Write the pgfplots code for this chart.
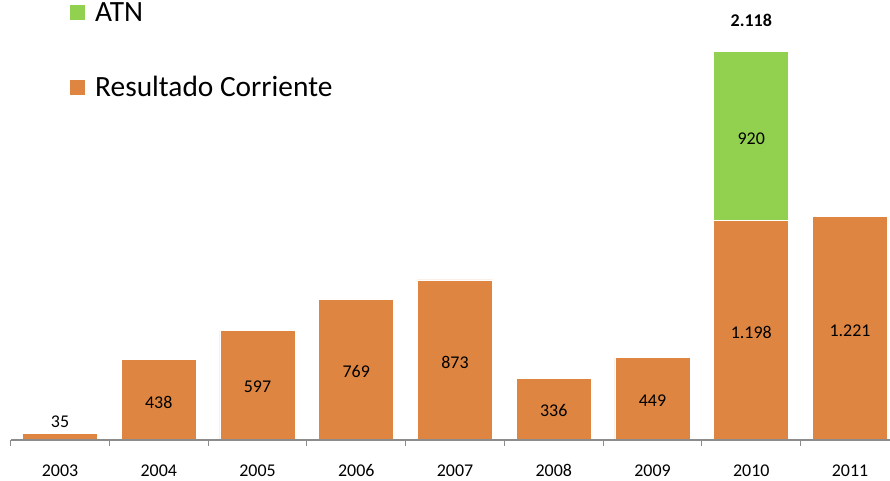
\documentclass[border=0pt]{standalone}
\usepackage{fontspec}
\setmainfont{Carlito}
\usepackage{pgfplots}
\pgfplotsset{compat=1.18}
\definecolor{rc}{RGB}{221,133,65}
\definecolor{atn}{RGB}{146,208,80}
\definecolor{axisgray}{RGB}{140,140,140}
\tikzset{lbl/.style={font=\fontsize{18}{21}\selectfont}}
\begin{document}
\begin{tikzpicture}
\begin{axis}[
    scale only axis,
    width=888.75bp, height=440bp,
    xmin=-0.5, xmax=8.5, ymin=0, ymax=2400,
    ybar stacked, bar width=0.76,
    axis on top,
    axis x line*=bottom, hide y axis,
    x axis line style={axisgray, line width=1.5bp, -},
    xtick={0,1,2,3,4,5,6,7,8},
    xticklabels={2003,2004,2005,2006,2007,2008,2009,2010,2011},
    major tick length=0pt,
    minor xtick={-0.5,0.5,1.5,2.5,3.5,4.5,5.5,6.5,7.5,8.5},
    minor tick length=6bp,
    tick align=outside,
    xtick style={axisgray, line width=1.2bp},
    xticklabel style={font=\fontsize{18}{21}\selectfont, yshift=-21bp},
    /pgf/number format/assume math mode=true,
    legend style={draw=none, fill=none, at={(axis description cs:0.0668,1.0)},
        anchor=north west, font=\fontsize{29.5}{34}\selectfont, row sep=50bp, inner sep=0pt,
        nodes={inner xsep=10bp}},
    legend cell align=left, reverse legend,
    legend image code/.code={\fill[#1, draw=none] (0bp,-7.5bp) rectangle (15bp,7.5bp);},
]
% Resultado Corriente
\addplot[fill=rc, draw=white, line width=0.8bp] coordinates {
    (0,35) (1,438) (2,597) (3,769) (4,873) (5,336) (6,449) (7,1198) (8,1221)};
\addlegendentry{Resultado Corriente}
% ATN
\addplot[fill=atn, draw=white, line width=0.8bp] coordinates {
    (0,0) (1,0) (2,0) (3,0) (4,0) (5,0) (6,0) (7,920) (8,0)};
\addlegendentry{ATN}

\coordinate (l0) at (axis cs:0,99);
\coordinate (l1) at (axis cs:1,203);
\coordinate (l2) at (axis cs:2,288);
\coordinate (l3) at (axis cs:3,371);
\coordinate (l4) at (axis cs:4,425);
\coordinate (l5) at (axis cs:5,159);
\coordinate (l6) at (axis cs:6,213);
\coordinate (l7) at (axis cs:7,585);
\coordinate (l8) at (axis cs:8,595);
\coordinate (l9) at (axis cs:7,1641);
\coordinate (lt) at (axis cs:7,2289);

\coordinate (bbsw) at (axis cs:-0.6076,-223.6);
\coordinate (bbne) at (axis cs:8.405,2400);
\end{axis}
\node[lbl] at (l0) {35};
\node[lbl] at (l1) {438};
\node[lbl] at (l2) {597};
\node[lbl] at (l3) {769};
\node[lbl] at (l4) {873};
\node[lbl] at (l5) {336};
\node[lbl] at (l6) {449};
\node[lbl] at (l7) {1.198};
\node[lbl] at (l8) {1.221};
\node[lbl] at (l9) {920};
\node[lbl, font=\fontsize{18}{21}\selectfont\bfseries] at (lt) {2.118};
\pgfresetboundingbox
\path[use as bounding box] (bbsw) rectangle (bbne);
\end{tikzpicture}
\end{document}
